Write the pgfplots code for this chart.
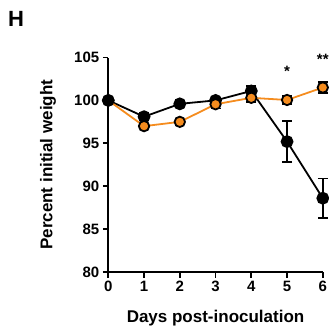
\documentclass[border=0pt]{standalone}
\usepackage{pgfplots}
\pgfplotsset{compat=1.18}
\usepackage{fontspec}
\setmainfont{Liberation Sans}
\definecolor{myorange}{RGB}{245,140,30}
\begin{document}
\begin{tikzpicture}[x=1pt,y=1pt]
\begin{axis}[
  at={(108.3pt,53pt)}, anchor=south west,
  scale only axis, width=214.5pt, height=214.5pt,
  xmin=0, xmax=6, ymin=80, ymax=105,
  axis x line*=bottom, axis y line*=left,
  axis line style={line width=1.8pt},
  xtick={0,...,6}, ytick={80,85,...,105},
  tick align=outside, major tick length=5.5pt,
  tick style={line width=1.8pt, black},
  /pgf/number format/assume math mode=true,
  ticklabel style={font=\fontsize{15}{15}\selectfont\bfseries},
  label style={font=\fontsize{17}{17}\selectfont\bfseries},
  xlabel={Days post-inoculation}, ylabel={Percent initial weight},
  xlabel style={at={(axis description cs:0.5,0)}, anchor=base, yshift=-50pt},
  ylabel style={at={(axis description cs:0,0.5)}, anchor=base, yshift=56pt},
  clip=false,
  error bars/error bar style={black, line width=1.8pt},
  error bars/error mark options={rotate=90, mark size=5pt, line width=1.8pt, black},
]
\addplot[black, line width=1.8pt, mark=*, mark size=5.5pt, mark options={fill=black},
  error bars/.cd, y dir=both, y explicit]
  coordinates {(0,100) +- (0,0) (1,98.1) +- (0,0.4) (2,99.6) +- (0,0.3) (3,100.0) +- (0,0.3) (4,101.1) +- (0,0.6) (5,95.2) +- (0,2.4) (6,88.6) +- (0,2.3)};
\addplot[myorange, line width=1.8pt, mark=*, mark size=5.2pt, mark options={fill=myorange, draw=black, line width=1.8pt},
  error bars/.cd, y dir=both, y explicit]
  coordinates {(0,100) +- (0,0) (1,97.0) +- (0,0.2) (2,97.5) +- (0,0.2) (3,99.55) +- (0,0.5) (4,100.3) +- (0,0.5) (5,100.05) +- (0,0.45) (6,101.5) +- (0,0.6)};
\addplot[black, only marks, mark=*, mark size=5.5pt, mark options={fill=black}]
  coordinates {(0,100)};
\node[font=\fontsize{15}{15}\selectfont\bfseries] at (axis cs:5,103.4) {*};
\node[font=\fontsize{15}{15}\selectfont\bfseries] at (axis cs:6,104.8) {**};
\end{axis}
\node[font=\fontsize{22}{22}\selectfont\bfseries, anchor=south west, inner sep=0pt] at (8pt,298pt) {H};
\pgfresetboundingbox
\path (0,0) rectangle (329pt,325pt);
\end{tikzpicture}
\end{document}
